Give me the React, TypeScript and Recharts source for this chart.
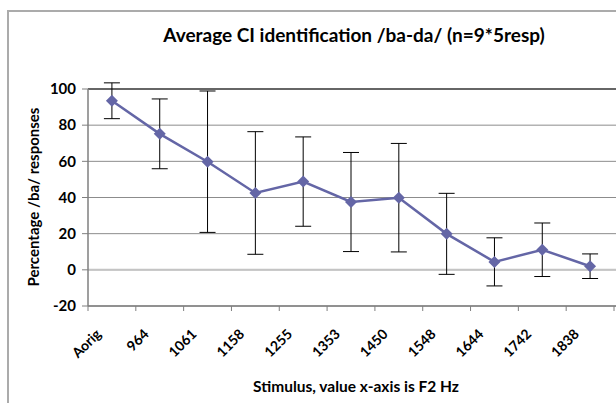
import React from "react";
import { LineChart, Line, XAxis, YAxis, CartesianGrid, ErrorBar, ReferenceLine } from "recharts";

// stimulus labels (F2 in Hz), mean % /ba/ responses and the error bar half-length
const stimuli = ["Aorig", "964", "1061", "1158", "1255", "1353", "1450", "1548", "1644", "1742", "1838"];
const meanBa = [93.5, 75.2, 59.8, 42.5, 48.8, 37.5, 39.9, 19.9, 4.4, 11.1, 2.0];
const errBa = [9.9, 19.3, 39.1, 33.9, 24.7, 27.4, 30, 22.4, 13.3, 14.8, 6.8];
const yTicks = [-20, 0, 20, 40, 60, 80, 100];

const data = stimuli.map((s, i) => ({ pos: i, stimulus: s, ba: meanBa[i], err: errBa[i] }));
const xTicks = stimuli.map((_, i) => i);

const FONT = "Lato, 'Open Sans', sans-serif";
const SERIES = "#6466a6";
const AXIS = "#7f7f7f";
const HALF_CAT = 526 / stimuli.length / 2;
// the frame is drawn 9px short of the scale range, so stretch the domain to match
const X_DOMAIN = [-0.5, stimuli.length - 0.5 + 9 / (2 * HALF_CAT)];

function Diamond(props: any) {
  const { cx, cy } = props;
  if (cx == null || cy == null) return null;
  const r = 6;
  return <path d={`M${cx},${cy - r}L${cx + r},${cy}L${cx},${cy + r}L${cx - r},${cy}Z`} fill={SERIES} />;
}

function StimTick(props: any) {
  const { x, y, payload, index } = props;
  const tx = x - 10;
  const ty = y + 29;
  return (
    <g>
      <line x1={x - HALF_CAT} y1={y} x2={x - HALF_CAT} y2={y + 5} stroke={AXIS} />
      {index === stimuli.length - 1 && (
        <line x1={x + HALF_CAT} y1={y} x2={x + HALF_CAT} y2={y + 5} stroke={AXIS} />
      )}
      <text
        x={tx}
        y={ty}
        transform={`rotate(-45, ${tx}, ${ty})`}
        textAnchor="end"
        fontFamily={FONT}
        fontWeight="bold"
        fontSize={14}
        fill="#000"
      >
        {stimuli[payload.value]}
      </text>
    </g>
  );
}

export default function App() {
  return (
    <div
      style={{
        position: "fixed",
        left: 0,
        top: 0,
        width: 616,
        height: 403,
        overflow: "hidden",
        background: "#fff",
        fontFamily: FONT,
      }}
    >
      <div
        style={{
          position: "absolute",
          left: 7,
          top: 10,
          width: 700,
          height: 500,
          border: "2px solid #ababab",
        }}
      />
      <div
        style={{
          position: "absolute",
          left: 91,
          width: 526,
          top: 23,
          lineHeight: "24px",
          textAlign: "center",
          fontWeight: "bold",
          fontSize: 19,
          color: "#000",
        }}
      >
        Average CI identification /ba-da/ (n=9*5resp)
      </div>
      <div
        style={{
          position: "absolute",
          left: 33 - 150,
          top: 197 - 10,
          width: 300,
          height: 20,
          lineHeight: "20px",
          textAlign: "center",
          transform: "rotate(-90deg)",
          fontWeight: "bold",
          fontSize: 15,
          color: "#000",
        }}
      >
        Percentage /ba/ responses
      </div>
      <div
        style={{
          position: "absolute",
          left: 356 - 150,
          top: 376,
          width: 300,
          lineHeight: "20px",
          textAlign: "center",
          fontWeight: "bold",
          fontSize: 15.5,
          color: "#000",
        }}
      >
        Stimulus, value x-axis is F2 Hz
      </div>
      <div style={{ position: "absolute", left: 0, top: 0 }}>
        <LineChart width={616} height={403} data={data} margin={{ top: 89, right: -7, bottom: 0, left: 0 }}>
          <CartesianGrid vertical={false} stroke="#8c8c8c" />
          <CartesianGrid
            horizontal={false}
            stroke={AXIS}
            strokeWidth={1.5}
            verticalCoordinatesGenerator={({ offset }: any) => [offset.left + offset.width]}
          />
          <XAxis
            dataKey="pos"
            type="number"
            domain={X_DOMAIN}
            allowDataOverflow
            ticks={xTicks}
            height={97}
            interval={0}
            tickLine={false}
            tickSize={0}
            tickMargin={0}
            axisLine={{ stroke: AXIS, strokeWidth: 1.5 }}
            tick={<StimTick />}
          />
          <YAxis
            width={88}
            domain={[-20, 100]}
            ticks={yTicks}
            allowDataOverflow
            tickSize={6}
            tickMargin={6}
            tickLine={{ stroke: AXIS }}
            axisLine={{ stroke: AXIS, strokeWidth: 1.5 }}
            tick={{ fontFamily: FONT, fontWeight: "bold", fontSize: 15, fill: "#000" }}
          />
          <ReferenceLine y={0} stroke="#c4c4c4" strokeWidth={2} />
          <ReferenceLine y={100} stroke="#666" strokeWidth={2} />
          <Line
            dataKey="ba"
            stroke={SERIES}
            strokeWidth={2.5}
            dot={(p: any) => <Diamond key={p.index} {...p} />}
            activeDot={false}
            isAnimationActive={false}
          >
            <ErrorBar dataKey="err" direction="y" width={8} stroke="#000" strokeWidth={1} />
          </Line>
        </LineChart>
      </div>
    </div>
  );
}
